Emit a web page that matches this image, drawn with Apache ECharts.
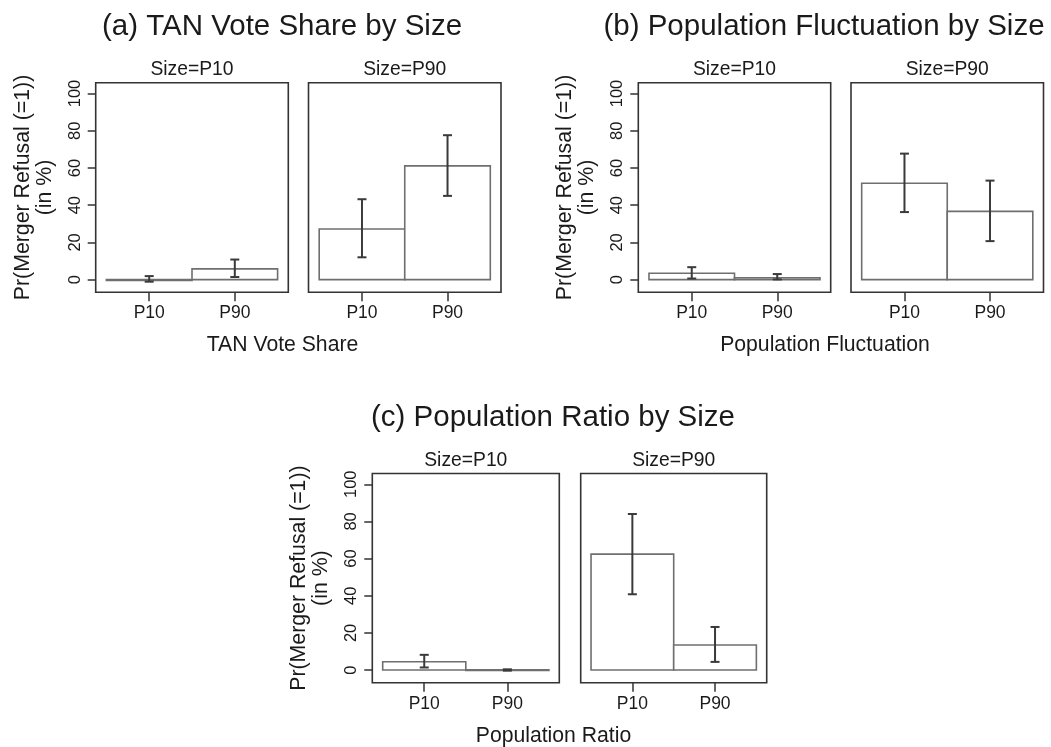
<!DOCTYPE html>
<html>
<head>
<meta charset="utf-8">
<script src="https://cdn.jsdelivr.net/npm/echarts@6/dist/echarts.min.js"></script>
<style>
  html, body { margin: 0; padding: 0; background: #ffffff; }
  #chart { width: 1051px; height: 747px; }
</style>
</head>
<body>
<div id="chart"></div>
<script>
// ---------------- data ----------------
const categories = ['P10', 'P90'];
const sizeGroups = ['Size=P10', 'Size=P90'];
const yTicks = [0, 20, 40, 60, 80, 100];

const panelTitles = ['(a) TAN Vote Share by Size', '(b) Population Fluctuation by Size', '(c) Population Ratio by Size'];
const xTitles = ['TAN Vote Share', 'Population Fluctuation', 'Population Ratio'];
const yTitle = 'Pr(Merger Refusal (=1))\n(in %)';

// values ordered: [Size=P10: P10, P90, Size=P90: P10, P90]
const tanEst = [-0.5, 5.8, 27.2, 61.1];
const tanLo  = [-1.1, 1.4, 12.0, 45.0];
const tanHi  = [1.9, 10.8, 43.2, 77.6];

const flucEst = [3.4, 1.0, 51.8, 36.7];
const flucLo  = [0.6, 0.1, 36.3, 20.7];
const flucHi  = [6.7, 3.0, 67.7, 53.2];

const ratioEst = [4.5, 0.1, 62.4, 13.5];
const ratioLo  = [1.4, -0.3, 40.8, 4.4];
const ratioHi  = [8.2, 0.4, 84.0, 23.2];

// ---------------- layout & styling ----------------
const FONT = '"Liberation Sans", Arial, Helvetica, sans-serif';
const TXT = '#1a1a1a';
const panels = [
  { est: tanEst, lo: tanLo, hi: tanHi },
  { est: flucEst, lo: flucLo, hi: flucHi },
  { est: ratioEst, lo: ratioLo, hi: ratioHi }
];
const gridRects = [
  { left: 95.7, top: 82.7, width: 192.6, height: 209.6 },
  { left: 308.5, top: 82.7, width: 192.5, height: 209.6 },
  { left: 638.3, top: 82.7, width: 192.4, height: 209.6 },
  { left: 851.0, top: 82.7, width: 192.5, height: 209.6 },
  { left: 372.3, top: 473.5, width: 187.0, height: 209.2 },
  { left: 580.7, top: 473.5, width: 186.0, height: 209.2 }
];
const titlePos = [[282, 26.5], [824, 26.5], [553, 418]];
const xTitlePos = [[282.5, 345.5], [825, 345.5], [553.5, 736.5]];

const grid = [], xAxis = [], yAxis = [], series = [], title = [];

gridRects.forEach((r, i) => {
  grid.push(Object.assign({
    show: true, borderColor: '#333333', borderWidth: 1.6,
    backgroundColor: 'transparent', containLabel: false
  }, r));
  xAxis.push({
    type: 'value', gridIndex: i, min: -0.625, max: 1.625,
    axisLine: { show: false, onZero: false },
    splitLine: { show: false },
    axisTick: { show: true, length: 9, inside: false, customValues: [0, 1],
                lineStyle: { color: '#333333', width: 1.5 } },
    axisLabel: { show: true, customValues: [0, 1], margin: 12,
                 formatter: v => categories[Math.round(v)],
                 fontFamily: FONT, fontSize: 17.5, color: TXT }
  });
  const leftOne = (i % 2 === 0);
  yAxis.push({
    type: 'value', gridIndex: i, min: -6.8, max: 105.8,
    show: leftOne,
    axisLine: { show: false, onZero: false },
    splitLine: { show: false },
    axisTick: { show: true, length: 8, inside: false, customValues: yTicks,
                lineStyle: { color: '#333333', width: 1.5 } },
    axisLabel: { show: true, customValues: yTicks, rotate: 90, margin: 12,
                 fontFamily: FONT, fontSize: 16.5, color: TXT },
    name: leftOne ? yTitle : '',
    nameLocation: 'middle', nameRotate: 90, nameGap: 40,
    nameTextStyle: { fontFamily: FONT, fontSize: 21.3, color: TXT, lineHeight: 22 }
  });
  const p = panels[Math.floor(i / 2)];
  const s = i % 2;
  const data = categories.map((c, k) => [k, p.est[s * 2 + k], p.lo[s * 2 + k], p.hi[s * 2 + k]]);
  series.push({
    type: 'custom', xAxisIndex: i, yAxisIndex: i, clip: false,
    data: data,
    renderItem: function (params, api) {
      const x = api.value(0), v = api.value(1), lo = api.value(2), hi = api.value(3);
      const a = api.coord([x - 0.5, v]);
      const b = api.coord([x + 0.5, 0]);
      const top = Math.min(a[1], b[1]);
      const h = Math.max(Math.abs(a[1] - b[1]), 0.6);
      const pLo = api.coord([x, lo]);
      const pHi = api.coord([x, hi]);
      const cap = 4.5;
      return {
        type: 'group',
        children: [
          { type: 'rect', shape: { x: a[0], y: top, width: b[0] - a[0], height: h },
            style: { fill: '#ffffff', stroke: '#6f6f6f', lineWidth: 1.6 } },
          { type: 'line', shape: { x1: pLo[0], y1: pLo[1], x2: pHi[0], y2: pHi[1] },
            style: { stroke: '#3a3a3a', lineWidth: 2 } },
          { type: 'line', shape: { x1: pLo[0] - cap, y1: pLo[1], x2: pLo[0] + cap, y2: pLo[1] },
            style: { stroke: '#3a3a3a', lineWidth: 2 } },
          { type: 'line', shape: { x1: pHi[0] - cap, y1: pHi[1], x2: pHi[0] + cap, y2: pHi[1] },
            style: { stroke: '#3a3a3a', lineWidth: 2 } }
        ]
      };
    }
  });
  title.push({
    text: sizeGroups[s], left: r.left + r.width / 2, top: r.top - 13,
    padding: 0, textAlign: 'center', textVerticalAlign: 'middle',
    textStyle: { fontFamily: FONT, fontSize: 19.3, fontWeight: 'normal', color: TXT }
  });
});

panelTitles.forEach((t, j) => {
  title.push({
    text: t, left: titlePos[j][0], top: titlePos[j][1],
    padding: 0, textAlign: 'center', textVerticalAlign: 'middle',
    textStyle: { fontFamily: FONT, fontSize: 29.5, fontWeight: 'normal', color: TXT }
  });
  title.push({
    text: xTitles[j], left: xTitlePos[j][0], top: xTitlePos[j][1],
    padding: 0, textAlign: 'center', textVerticalAlign: 'middle',
    textStyle: { fontFamily: FONT, fontSize: 21.2, fontWeight: 'normal', color: TXT }
  });
});

const chart = echarts.init(document.getElementById('chart'), null, { renderer: 'canvas' });
chart.setOption({
  backgroundColor: '#ffffff',
  animation: false,
  title: title,
  grid: grid,
  xAxis: xAxis,
  yAxis: yAxis,
  series: series
});
</script>
</body>
</html>
